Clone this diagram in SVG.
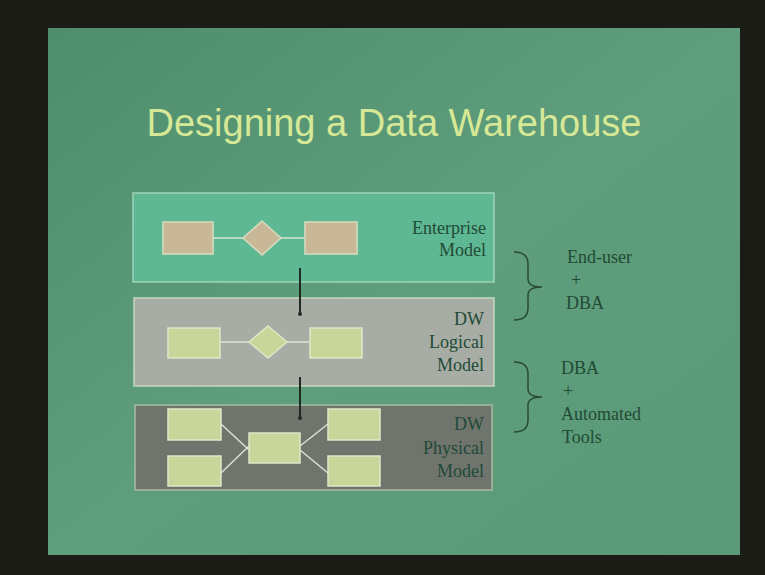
<svg xmlns="http://www.w3.org/2000/svg" width="765" height="575" viewBox="0 0 765 575">
<defs>
<style>
.lbl{font-family:"Liberation Serif",serif;font-size:18px;fill:#214a36;}
.pl{font-family:"Liberation Serif",serif;font-size:18px;fill:#214a36;text-anchor:end;}
.er{fill:#c9b898;stroke:#d8dcc0;stroke-width:1.5;}
.lr{fill:#c9d69a;stroke:#e0e6c8;stroke-width:1.5;}
.ln{stroke:#d8e4d0;stroke-width:1.5;fill:none;}
.conn{stroke:#1e2a22;stroke-width:2;fill:none;}
.brace{stroke:#2a4a38;stroke-width:1.5;fill:none;}
</style>
<linearGradient id="bg" x1="0" y1="0" x2="1" y2="1">
<stop offset="0" stop-color="#4f8e6c"/>
<stop offset="0.5" stop-color="#5e9e7c"/>
<stop offset="1" stop-color="#5a9a78"/>
</linearGradient>
</defs>
<rect x="0" y="0" width="765" height="575" fill="#1c1c16"/>
<rect x="48" y="28" width="692" height="527" fill="url(#bg)"/>
<text x="394" y="136" text-anchor="middle" font-family="Liberation Sans, Arial, sans-serif" font-size="38" fill="#d6e896">Designing a Data Warehouse</text>

<g id="enterprise">
<rect x="133" y="193" width="361" height="89" fill="#5fb894" stroke="#9ed4b8" stroke-width="1.5"/>
<rect class="er" x="163" y="222" width="50" height="32"/>
<line class="ln" x1="213" y1="238" x2="243" y2="238"/>
<polygon class="er" points="262,221 281,238 262,255 243,238"/>
<line class="ln" x1="281" y1="238" x2="305" y2="238"/>
<rect class="er" x="305" y="222" width="52" height="32"/>
<text class="pl" x="486" y="234">Enterprise</text>
<text class="pl" x="486" y="256">Model</text>
</g>

<g id="logical">
<rect x="134" y="298" width="360" height="88" fill="#a7ada4" stroke="#c4d8c0" stroke-width="1.5"/>
<rect class="lr" x="168" y="328" width="52" height="30"/>
<line class="ln" x1="220" y1="342" x2="249" y2="342"/>
<polygon class="lr" points="268,326 287,342 268,358 249,342"/>
<line class="ln" x1="287" y1="342" x2="310" y2="342"/>
<rect class="lr" x="310" y="328" width="52" height="30"/>
<text class="pl" x="484" y="325">DW</text>
<text class="pl" x="484" y="348">Logical</text>
<text class="pl" x="484" y="371">Model</text>
</g>

<g id="physical">
<rect x="135" y="405" width="357" height="85" fill="#6f746d" stroke="#a8bca4" stroke-width="1.5"/>
<line class="ln" x1="221" y1="424" x2="249" y2="450"/>
<line class="ln" x1="221" y1="473" x2="249" y2="446"/>
<line class="ln" x1="300" y1="446" x2="328" y2="424"/>
<line class="ln" x1="300" y1="450" x2="328" y2="473"/>
<rect class="lr" x="168" y="409" width="53" height="31"/>
<rect class="lr" x="168" y="456" width="53" height="30"/>
<rect class="lr" x="249" y="433" width="51" height="30"/>
<rect class="lr" x="328" y="409" width="52" height="31"/>
<rect class="lr" x="328" y="456" width="52" height="30"/>
<text class="pl" x="484" y="430">DW</text>
<text class="pl" x="484" y="454">Physical</text>
<text class="pl" x="484" y="477">Model</text>
</g>

<g id="roles1">
<path class="brace" d="M514,252 Q528,252 528,264 L528,279 Q528,287 542,287 Q528,287 528,295 L528,308 Q528,320 514,320"/>
<text class="lbl" x="567" y="263">End-user</text>
<text class="lbl" x="571" y="286">+</text>
<text class="lbl" x="566" y="309">DBA</text>
</g>

<g id="roles2">
<path class="brace" d="M514,362 Q528,362 528,374 L528,389 Q528,397 542,397 Q528,397 528,405 L528,420 Q528,432 514,432"/>
<text class="lbl" x="561" y="374">DBA</text>
<text class="lbl" x="563" y="397">+</text>
<text class="lbl" x="561" y="420">Automated</text>
<text class="lbl" x="562" y="443">Tools</text>
</g>

<g id="connectors">
<line class="conn" x1="300" y1="268" x2="300" y2="314"/>
<circle cx="300" cy="314" r="2" fill="#1e2a22"/>
<line class="conn" x1="300" y1="377" x2="300" y2="418"/>
<circle cx="300" cy="418" r="2" fill="#1e2a22"/>
</g>
</svg>
